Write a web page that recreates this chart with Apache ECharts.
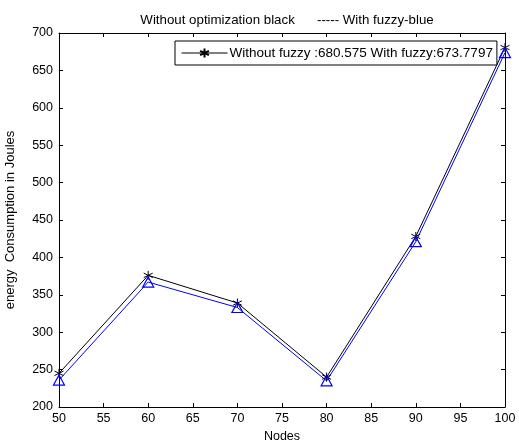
<!DOCTYPE html>
<html>
<head>
<meta charset="utf-8">
<script src="https://cdn.jsdelivr.net/npm/echarts@6/dist/echarts.min.js"></script>
<style>html,body{margin:0;padding:0;background:#fff}#c{width:519px;height:443px}</style>
</head>
<body>
<div id="c"></div>
<script>
var nodes = [50, 60, 70, 80, 90, 100];
var withoutFuzzy = [245, 376, 339, 240, 428, 680.575];
var withFuzzy = [236, 367, 333, 235, 421, 673.7797];
var titleText = 'Without optimization black      ----- With fuzzy-blue';
var legendText = 'Without fuzzy :680.575 With fuzzy:673.7797';
var xName = 'Nodes';
var yName = 'energy  Consumption in Joules';

var font = 'Liberation Sans, Arial, sans-serif';
var asterisk = 'path://M0,-6L0,6M-5.2,-3L5.2,3M-5.2,3L5.2,-3';
function pairs(xs, ys){ return xs.map(function(x,i){ return [x, ys[i]]; }); }

var chart = echarts.init(document.getElementById('c'), null, {renderer:'canvas'});
var boxAxis = {
  axisLine:{show:true, onZero:false, lineStyle:{color:'#000', width:1}},
  axisTick:{show:true, inside:true, length:4, lineStyle:{color:'#000'}},
  splitLine:{show:false}
};
chart.setOption({
  animation:false,
  backgroundColor:'#fff',
  title:{text:titleText, left:282, textAlign:'center', top:9,
    textStyle:{fontFamily:font, fontSize:13.3, fontWeight:'normal', color:'#000'}},
  legend:{
    data:[{name:legendText}],
    left:175, top:41, width:320,
    itemWidth:46, itemHeight:11, itemGap:0,
    symbolKeepAspect:true,
    lineStyle:{width:1, color:'#000'},
    padding:[5,4,5,6],
    borderColor:'#000', borderWidth:1, backgroundColor:'#fff',
    textStyle:{fontFamily:font, fontSize:13.5, color:'#000', padding:[0,0,0,-3]}
  },
  grid:{left:59, right:14, top:33, bottom:36, outerBoundsMode:'none', containLabel:false},
  xAxis:[
    Object.assign({type:'value', min:50, max:100, interval:5, position:'bottom',
      name:xName, nameLocation:'middle', nameGap:23,
      nameTextStyle:{fontFamily:font, fontSize:12.5, color:'#000'},
      axisLabel:{fontFamily:font, fontSize:12.5, color:'#000', margin:5}}, boxAxis),
    Object.assign({type:'value', min:50, max:100, interval:5, position:'top',
      axisLabel:{show:false}}, boxAxis)
  ],
  yAxis:[
    Object.assign({type:'value', min:200, max:700, interval:50, position:'left',
      name:yName, nameLocation:'middle', nameGap:42,
      nameTextStyle:{fontFamily:font, fontSize:13, color:'#000'},
      axisLabel:{fontFamily:font, fontSize:12.5, color:'#000', margin:6}}, boxAxis),
    Object.assign({type:'value', min:200, max:700, interval:50, position:'right',
      axisLabel:{show:false}}, boxAxis)
  ],
  series:[
    {type:'line', name:legendText, data:pairs(nodes, withoutFuzzy),
      symbol:asterisk, symbolSize:9, showAllSymbol:true,
      lineStyle:{color:'#000', width:1},
      itemStyle:{color:'#000', borderColor:'#000', borderWidth:1}},
    {type:'line', name:'With fuzzy', data:pairs(nodes, withFuzzy),
      symbol:'triangle', symbolSize:[11,10], showAllSymbol:true,
      lineStyle:{color:'#0000ff', width:1},
      itemStyle:{color:'rgba(0,0,0,0)', borderColor:'#0000ff', borderWidth:1.2}}
  ]
});
</script>
</body>
</html>
